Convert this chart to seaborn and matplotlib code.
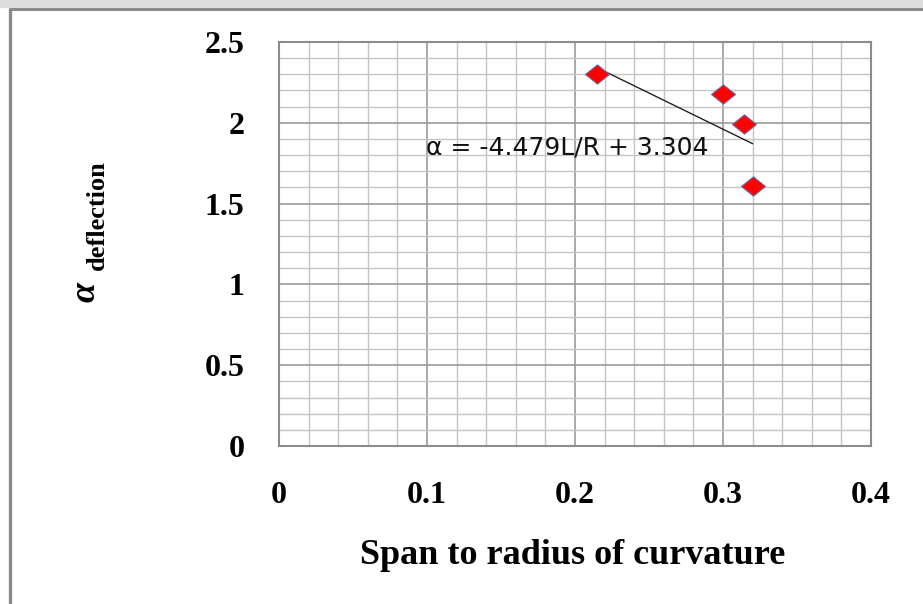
import numpy as np
import pandas as pd
import matplotlib
matplotlib.use("Agg")
import matplotlib.pyplot as plt
from matplotlib.patches import Rectangle
from matplotlib.lines import Line2D
from matplotlib.ticker import MultipleLocator
import seaborn as sns

# ---- data ----
span_ratio = [0.215, 0.300, 0.314, 0.320]
alpha_defl = [2.30, 2.18, 1.99, 1.61]
trend_slope = -4.479
trend_intercept = 3.304
trend_x = [0.215, 0.320]
x_ticks = [0, 0.1, 0.2, 0.3, 0.4]
x_tick_labels = ["0", "0.1", "0.2", "0.3", "0.4"]
y_ticks = [0, 0.5, 1, 1.5, 2, 2.5]
y_tick_labels = ["0", "0.5", "1", "1.5", "2", "2.5"]
equation_text = "α = -4.479L/R + 3.304"
x_label = "Span to radius of curvature"

sns.set_style("white")
plt.rcParams["font.family"] = ["Liberation Serif", "DejaVu Serif"]
plt.rcParams["text.color"] = "black"
plt.rcParams["xtick.labelcolor"] = "black"
plt.rcParams["ytick.labelcolor"] = "black"

W, H = 923, 604
fig = plt.figure(figsize=(W / 100, H / 100), dpi=100)
ax = fig.add_axes([279 / W, 1 - 446 / H, (871 - 279) / W, (446 - 42) / H])

df = pd.DataFrame({"x": span_ratio, "y": alpha_defl})
tdf = pd.DataFrame({"x": trend_x,
                    "y": [trend_slope * v + trend_intercept for v in trend_x]})

sns.lineplot(data=tdf, x="x", y="y", ax=ax, color="#222222", lw=1.0, zorder=3)
diamond = [(-1, 0), (0, 0.8), (1, 0), (0, -0.8), (-1, 0)]
sns.scatterplot(data=df, x="x", y="y", ax=ax, marker=diamond, s=300,
                color="#ff0000", edgecolor="#6a6aa0", linewidth=0.8, zorder=4)

ax.set_xlim(0, 0.4)
ax.set_ylim(0, 2.5)
ax.set_xticks(x_ticks)
ax.set_xticklabels(x_tick_labels)
ax.set_yticks(y_ticks)
ax.set_yticklabels(y_tick_labels)
ax.xaxis.set_minor_locator(MultipleLocator(0.02))
ax.yaxis.set_minor_locator(MultipleLocator(0.1))
ax.grid(which="minor", color="#c4c4c4", lw=1.0, zorder=0)
ax.grid(which="major", color="#9a9a9a", lw=1.2, zorder=0)
ax.set_axisbelow(True)
for side in ["top", "right"]:
    ax.spines[side].set_visible(True)
for s in ax.spines.values():
    s.set_color("#8c8c8c")
    s.set_linewidth(1.5)

ax.tick_params(axis="x", which="major", direction="out", length=6, width=1.3,
               color="#8c8c8c", pad=19, labelsize=23, labelcolor="black")
ax.tick_params(axis="y", which="major", direction="out", length=9, width=1.3,
               color="#8c8c8c", pad=16, labelsize=23, labelcolor="black")
ax.tick_params(which="minor", length=0)
for lab in ax.get_xticklabels() + ax.get_yticklabels():
    lab.set_fontweight("bold")
ax.set_xlabel("")
ax.set_ylabel("")

ax.text(0.1946, 1.85, equation_text, fontsize=18, family=["DejaVu Sans"],
        color="#111111", ha="center", va="center", zorder=5)

fig.text(573 / W, 1 - 556 / H, x_label, fontsize=26, fontweight="bold",
         ha="center", va="center", color="black")
fig.text(86 / W, 1 - 292 / H, "α", fontsize=26, fontweight="bold",
         style="italic", rotation=90, ha="center", va="center", color="black")
fig.text(97 / W, 1 - 215 / H, "deflection", fontsize=19, fontweight="bold",
         rotation=90, ha="center", va="center", color="black")

# page frame from the scanned source
fig.patches.append(Rectangle((0, 1 - 7 / H), 1, 7 / H, transform=fig.transFigure,
                             color="#dddddd", zorder=0))
fig.lines.append(Line2D([9.5 / W, 1], [1 - 9 / H, 1 - 9 / H], transform=fig.transFigure,
                        color="#8a8a8a", lw=2.2))
fig.lines.append(Line2D([9.5 / W, 9.5 / W], [0, 1 - 9 / H], transform=fig.transFigure,
                        color="#8a8a8a", lw=2.4))

fig.savefig("out.png", dpi=100)
